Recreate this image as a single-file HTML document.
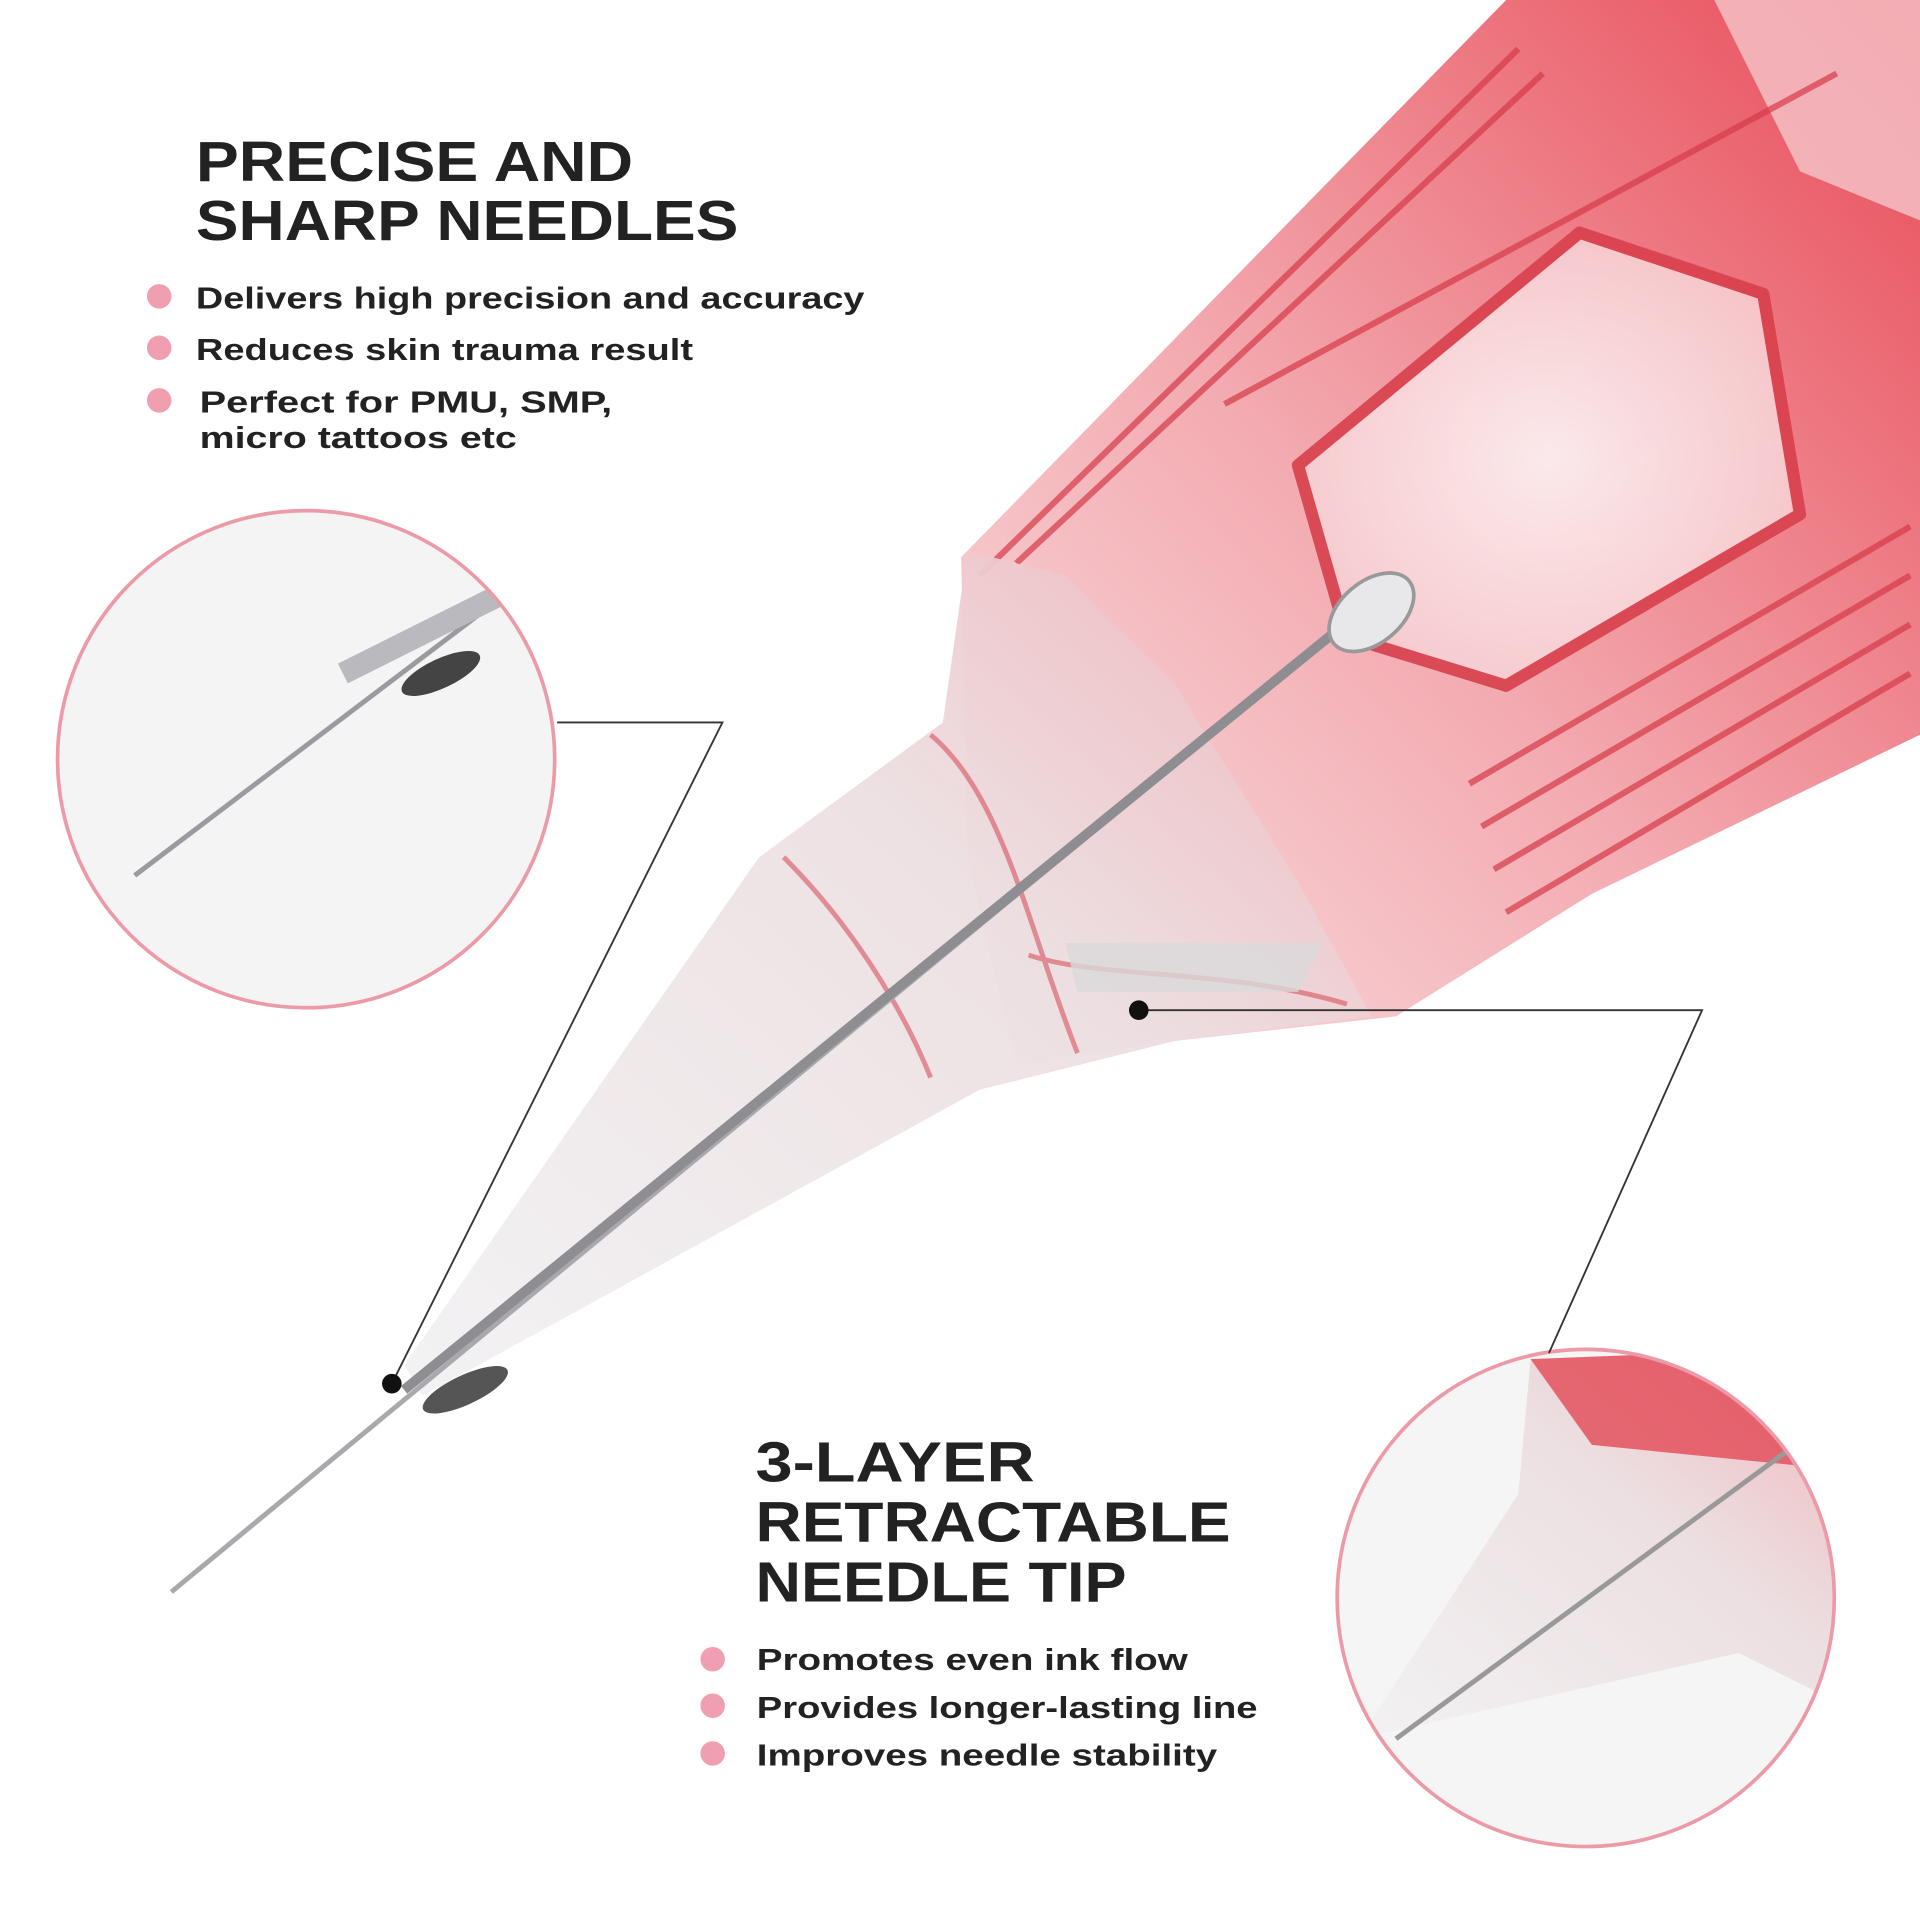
<!DOCTYPE html>
<html><head><meta charset="utf-8"><style>
html,body{margin:0;padding:0;background:#fff;}
svg{display:block;}
text{font-family:"Liberation Sans",Arial,sans-serif;fill:#222;}
</style></head><body>
<svg width="1920" height="1920" viewBox="0 0 1568 1568" xmlns="http://www.w3.org/2000/svg">
<defs>
<linearGradient id="body" x1="0" y1="1" x2="1" y2="0">
<stop offset="0" stop-color="#f9e3e5"/><stop offset="0.45" stop-color="#f3abb1"/><stop offset="1" stop-color="#e84b58"/>
</linearGradient>
<linearGradient id="cone" x1="0" y1="1" x2="1" y2="0">
<stop offset="0" stop-color="#f2f2f3"/><stop offset="0.6" stop-color="#ecdfe1"/><stop offset="1" stop-color="#f0b5bb"/>
</linearGradient>
<radialGradient id="win" cx="0.5" cy="0.5" r="0.6">
<stop offset="0" stop-color="#fdf3f4"/><stop offset="1" stop-color="#f6c9cd"/>
</radialGradient>
<clipPath id="c1"><circle cx="250" cy="620" r="203"/></clipPath>
<clipPath id="c2"><circle cx="1295" cy="1305" r="203"/></clipPath>
</defs>
<rect width="1568" height="1568" fill="#fff"/>

<path d="M785,455 L1230,0 L1568,0 L1568,600 L1300,730 L1140,830 L960,850 L830,870 L790,700 Z" fill="url(#body)"/>
<path d="M1060,380 L1290,190 L1440,240 L1470,420 L1230,560 L1100,520 Z" fill="url(#win)" stroke="#d8404c" stroke-width="10" stroke-linejoin="round" opacity="0.9"/>
<path d="M1400,0 L1568,0 L1568,180 L1470,140 Z" fill="#f5c5ca" opacity="0.8"/>
<g stroke="#d63a48" stroke-width="5" opacity="0.7" fill="none">
<path d="M1200,640 L1560,430"/><path d="M1210,675 L1560,470"/><path d="M1220,710 L1560,510"/><path d="M1230,745 L1560,550"/>
<path d="M800,470 L1240,40"/><path d="M830,460 L1260,60"/><path d="M1000,330 L1500,60"/>
</g>
<path d="M790,450 L770,590 L620,700 L330,1115 L345,1140 L800,890 L960,850 L1120,830 L1060,720 L960,560 L870,470 Z" fill="url(#cone)" opacity="0.95"/>
<g stroke="#d8525e" stroke-width="4" fill="none" opacity="0.6">
<path d="M760,600 C820,650 840,760 880,860"/><path d="M640,700 C700,760 740,830 760,880"/><path d="M840,780 C900,800 1000,790 1100,820"/>
</g>
<path d="M870,770 L1080,770 L1060,810 L880,810 Z" fill="#d9d9db" opacity="0.8"/>
<line x1="140" y1="1300" x2="1110" y2="500" stroke="#a9a9ad" stroke-width="4"/>
<line x1="330" y1="1135" x2="1110" y2="500" stroke="#8d8d92" stroke-width="8"/>
<ellipse cx="1120" cy="500" rx="40" ry="25" fill="#e8e8ea" stroke="#999" stroke-width="3" transform="rotate(-40 1120 500)"/>
<ellipse cx="380" cy="1135" rx="38" ry="12" fill="#555" transform="rotate(-25 380 1135)"/>

<circle cx="250" cy="620" r="203" fill="#f4f4f5"/>
<g clip-path="url(#c1)">
<line x1="110" y1="715" x2="420" y2="480" stroke="#9a9aa0" stroke-width="4"/>
<line x1="280" y1="550" x2="420" y2="480" stroke="#b9b9be" stroke-width="18"/>
<ellipse cx="360" cy="550" rx="35" ry="12" fill="#444" transform="rotate(-25 360 550)"/>
</g>
<circle cx="250" cy="620" r="203" fill="none" stroke="#ec9aa8" stroke-width="3"/>

<circle cx="1295" cy="1305" r="203" fill="#f5f5f6"/>
<g clip-path="url(#c2)">
<path d="M1250,1110 L1500,1100 L1500,1390 L1420,1350 L1110,1420 L1240,1220 Z" fill="url(#cone)"/>
<path d="M1250,1110 L1500,1100 L1500,1200 L1300,1180 Z" fill="#e24855" opacity="0.8"/>
<line x1="1140" y1="1420" x2="1480" y2="1170" stroke="#999" stroke-width="4"/>
</g>
<circle cx="1295" cy="1305" r="203" fill="none" stroke="#ec9aa8" stroke-width="3"/>

<polyline points="455,590 590,590 320,1130" fill="none" stroke="#333" stroke-width="1.5"/>
<circle cx="320" cy="1130" r="8" fill="#111"/>
<polyline points="930,825 1390,825 1265,1105" fill="none" stroke="#333" stroke-width="1.5"/>
<circle cx="930" cy="825" r="8" fill="#111"/>

<text x="160" y="148" font-size="46" font-weight="bold" textLength="357" lengthAdjust="spacingAndGlyphs">PRECISE AND</text>
<text x="160" y="196" font-size="46" font-weight="bold" textLength="443" lengthAdjust="spacingAndGlyphs">SHARP NEEDLES</text>
<g fill="#ef9fb0"><circle cx="130" cy="242" r="10"/><circle cx="130" cy="284" r="10"/><circle cx="130" cy="327" r="10"/></g>
<text x="160" y="252" font-size="25" font-weight="bold" fill="#333" textLength="546" lengthAdjust="spacingAndGlyphs">Delivers high precision and accuracy</text>
<text x="160" y="294" font-size="25" font-weight="bold" fill="#333" textLength="406" lengthAdjust="spacingAndGlyphs">Reduces skin trauma result</text>
<text x="163" y="337" font-size="25" font-weight="bold" fill="#333" textLength="337" lengthAdjust="spacingAndGlyphs">Perfect for PMU, SMP,</text>
<text x="163" y="366" font-size="25" font-weight="bold" fill="#333" textLength="259" lengthAdjust="spacingAndGlyphs">micro tattoos etc</text>

<text x="617" y="1210" font-size="46" font-weight="bold" textLength="228" lengthAdjust="spacingAndGlyphs">3-LAYER</text>
<text x="617" y="1259" font-size="46" font-weight="bold" textLength="388" lengthAdjust="spacingAndGlyphs">RETRACTABLE</text>
<text x="617" y="1308" font-size="46" font-weight="bold" textLength="303" lengthAdjust="spacingAndGlyphs">NEEDLE TIP</text>
<g fill="#ef9fb0"><circle cx="582" cy="1355" r="10"/><circle cx="582" cy="1393" r="10"/><circle cx="582" cy="1432" r="10"/></g>
<text x="618" y="1364" font-size="25" font-weight="bold" fill="#333" textLength="352" lengthAdjust="spacingAndGlyphs">Promotes even ink flow</text>
<text x="618" y="1403" font-size="25" font-weight="bold" fill="#333" textLength="409" lengthAdjust="spacingAndGlyphs">Provides longer-lasting line</text>
<text x="618" y="1442" font-size="25" font-weight="bold" fill="#333" textLength="376" lengthAdjust="spacingAndGlyphs">Improves needle stability</text>
</svg>
</body></html>
